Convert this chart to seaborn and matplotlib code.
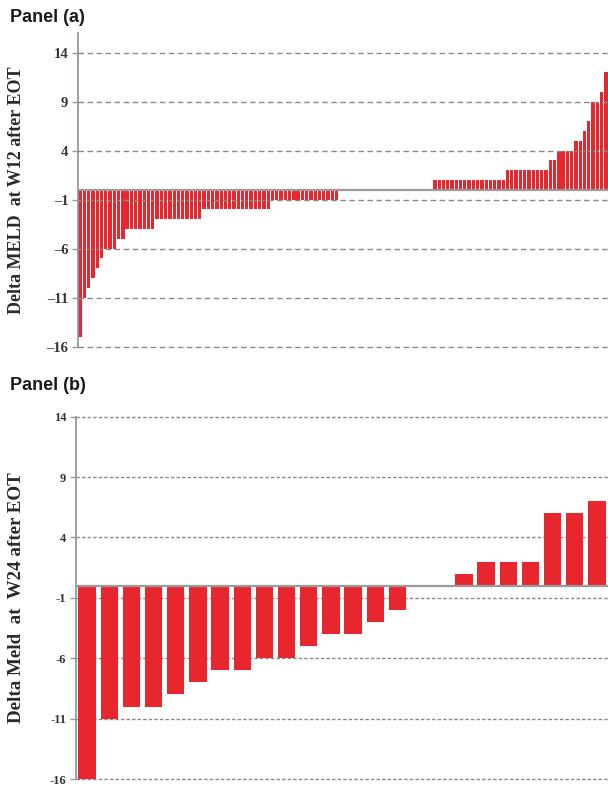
import matplotlib
matplotlib.use("Agg")
import matplotlib.pyplot as plt
import seaborn as sns
import pandas as pd

# Change in MELD score per patient, 12 weeks after end of treatment (sorted)
delta_w12 = [
    -15, -11, -10, -9, -8, -7,
    -6, -6, -6,
    -5, -5,
    -4, -4, -4, -4, -4, -4, -4,
    -3, -3, -3, -3, -3, -3, -3, -3, -3, -3, -3,
    -2, -2, -2, -2, -2, -2, -2, -2, -2, -2, -2, -2, -2, -2, -2, -2,
    -1, -1, -1, -1, -1, -1, -1, -1, -1, -1, -1, -1, -1, -1, -1, -1,
    0, 0, 0, 0, 0, 0, 0, 0, 0, 0, 0, 0, 0, 0, 0, 0, 0, 0, 0, 0, 0, 0,
    1, 1, 1, 1, 1, 1, 1, 1, 1, 1, 1, 1, 1, 1, 1, 1, 1,
    2, 2, 2, 2, 2, 2, 2, 2, 2, 2,
    3, 3,
    4, 4, 4, 4,
    5, 5,
    6, 7, 9, 9, 10, 12,
]

# Change in MELD score per patient, 24 weeks after end of treatment (sorted)
delta_w24 = [-16, -11, -10, -10, -9, -8, -7, -7, -6, -6, -5, -4, -4, -3, -2,
             0, 0, 1, 2, 2, 2, 6, 6, 7]

tick_values = [14, 9, 4, -1, -6, -11, -16]
tick_labels_a = ["14", "9", "4", "\u20131", "\u20136", "\u201311", "\u201316"]
tick_labels_b = ["14", "9", "4", "-1", "-6", "-11", "-16"]

bar_color = "#E8262D"
grid_color = "#8A8A8A"

sns.set_theme(style="white")
plt.rcParams["font.family"] = ["DejaVu Sans"]

fig = plt.figure(figsize=(6.08, 7.85), dpi=100)
ax_a = fig.add_axes([78 / 608, 1 - 346.7 / 785, 530 / 608, 313.7 / 785])
ax_b = fig.add_axes([76 / 608, 1 - 779 / 785, 532 / 608, 362.3 / 785])


def draw_panel(ax, values, ylim, labels, ylabel, label_size, tick_size,
               dash, grid_on_top, label_x):
    df = pd.DataFrame({"patient": range(len(values)), "delta": values})
    sns.barplot(data=df, x="patient", y="delta", color=bar_color,
                saturation=1, width=0.78, ax=ax, zorder=2, linewidth=0)
    ax.set_xlim(-0.5, len(values) - 0.5)
    ax.set_ylim(*ylim)
    gz = 3 if grid_on_top else 1
    for v in tick_values:
        ax.axhline(v, color=grid_color, lw=1.0, ls=(0, dash), zorder=gz,
                   clip_on=False)
    ax.axhline(0, color="#9A9A9A", lw=1.6, zorder=3)
    for s in ["top", "right", "bottom"]:
        ax.spines[s].set_visible(False)
    ax.spines["left"].set_color("#8E9AA6")
    ax.spines["left"].set_linewidth(1.3)
    ax.set_xticks([])
    ax.set_xlabel("")
    ax.set_yticks(tick_values)
    ax.set_yticklabels(labels, fontfamily="Liberation Serif",
                       fontweight="bold", fontsize=tick_size, color="#333333")
    ax.tick_params(axis="y", left=True, length=4, width=1,
                   color="#8E9AA6", pad=3)
    ax.set_ylabel(ylabel, fontfamily="Liberation Serif", fontweight="bold",
                  fontsize=label_size, color="#2A2A2A")
    ax.yaxis.set_label_coords(label_x, 0.5)


draw_panel(ax_a, delta_w12, (-16, 16), tick_labels_a,
           "Delta MELD  at W12 after EOT", 13, 10.5, (4, 2.5), True, -0.100)
draw_panel(ax_b, delta_w24, (-16, 14), tick_labels_b,
           "Delta Meld  at  W24 after EOT", 13.7, 9, (2.5, 1.5), False, -0.096)

fig.text(10 / 608, 1 - 18 / 785, "Panel (a)", fontfamily="Liberation Sans",
         fontweight="bold", fontsize=13, color="#1A1A1A", va="center")
fig.text(10 / 608, 1 - 386 / 785, "Panel (b)", fontfamily="Liberation Sans",
         fontweight="bold", fontsize=13, color="#1A1A1A", va="center")

fig.savefig("out.png", dpi=100)
